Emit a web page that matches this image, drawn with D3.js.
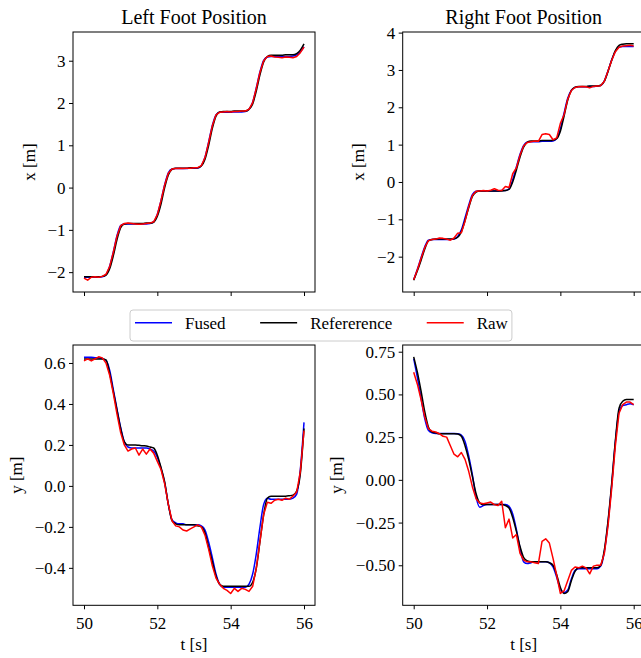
<!DOCTYPE html>
<html>
<head>
<meta charset="utf-8">
<script src="https://cdn.jsdelivr.net/npm/d3@7"></script>
<style>
  body { margin: 0; background: #fff; }
  svg { display: block; }
  svg text { font-family: "Liberation Serif", "Times New Roman", serif; }
</style>
</head>
<body>
<div id="chart"></div>
<script>
// sample times [s]
const time = [
  50.0, 50.1, 50.2, 50.3, 50.4, 50.5, 50.6, 50.7, 50.8, 50.9,
  51.0, 51.1, 51.2, 51.3, 51.4, 51.5, 51.6, 51.7, 51.8, 51.9,
  52.0, 52.1, 52.2, 52.3, 52.4, 52.5, 52.6, 52.7, 52.8, 52.9,
  53.0, 53.1, 53.2, 53.3, 53.4, 53.5, 53.6, 53.7, 53.8, 53.9,
  54.0, 54.1, 54.2, 54.3, 54.4, 54.5, 54.6, 54.7, 54.8, 54.9,
  55.0, 55.1, 55.2, 55.3, 55.4, 55.5, 55.6, 55.7, 55.8, 55.9,
  56.0
];

// left foot, x [m]
const leftXFused = [
  -2.12, -2.12, -2.12, -2.12, -2.12, -2.11, -2.06, -1.86, -1.52, -1.14,
  -0.90, -0.86, -0.86, -0.86, -0.86, -0.86, -0.86, -0.86, -0.85, -0.81,
  -0.63, -0.31, 0.07, 0.35, 0.44, 0.45, 0.45, 0.45, 0.45, 0.46,
  0.46, 0.46, 0.52, 0.72, 1.08, 1.47, 1.72, 1.78, 1.78, 1.78,
  1.78, 1.79, 1.79, 1.79, 1.80, 1.85, 2.02, 2.36, 2.74, 3.01,
  3.09, 3.10, 3.10, 3.10, 3.10, 3.10, 3.10, 3.11, 3.14, 3.21,
  3.33
];
const leftXReference = [
  -2.11, -2.11, -2.11, -2.11, -2.11, -2.10, -2.07, -1.92, -1.61, -1.23,
  -0.95, -0.86, -0.85, -0.85, -0.85, -0.85, -0.85, -0.84, -0.84, -0.82,
  -0.68, -0.39, 0.00, 0.30, 0.43, 0.46, 0.46, 0.46, 0.46, 0.47,
  0.47, 0.47, 0.51, 0.67, 1.00, 1.40, 1.69, 1.79, 1.80, 1.80,
  1.80, 1.81, 1.81, 1.81, 1.81, 1.85, 1.98, 2.29, 2.67, 2.97,
  3.10, 3.13, 3.13, 3.13, 3.13, 3.14, 3.14, 3.14, 3.17, 3.25,
  3.40
];
const leftXRaw = [
  -2.14, -2.19, -2.12, -2.11, -2.12, -2.10, -2.05, -1.87, -1.53, -1.15,
  -0.90, -0.85, -0.84, -0.85, -0.86, -0.87, -0.86, -0.85, -0.84, -0.81,
  -0.64, -0.31, 0.06, 0.34, 0.44, 0.45, 0.46, 0.45, 0.46, 0.46,
  0.47, 0.47, 0.52, 0.71, 1.07, 1.46, 1.72, 1.78, 1.79, 1.80,
  1.79, 1.80, 1.80, 1.81, 1.81, 1.85, 2.01, 2.35, 2.73, 3.00,
  3.10, 3.11, 3.09, 3.08, 3.07, 3.09, 3.08, 3.07, 3.10, 3.19,
  3.32
];

// right foot, x [m]
const rightXFused = [
  -2.62, -2.34, -2.03, -1.74, -1.56, -1.54, -1.54, -1.54, -1.54, -1.54,
  -1.54, -1.53, -1.46, -1.28, -0.96, -0.62, -0.34, -0.25, -0.24, -0.24,
  -0.24, -0.24, -0.24, -0.24, -0.23, -0.23, -0.18, 0.06, 0.40, 0.74,
  0.98, 1.07, 1.08, 1.08, 1.08, 1.09, 1.09, 1.09, 1.10, 1.17,
  1.42, 1.84, 2.24, 2.46, 2.53, 2.55, 2.55, 2.55, 2.56, 2.56,
  2.57, 2.58, 2.71, 2.98, 3.27, 3.50, 3.61, 3.63, 3.63, 3.63,
  3.63
];
const rightXReference = [
  -2.63, -2.38, -2.10, -1.80, -1.58, -1.54, -1.53, -1.53, -1.53, -1.53,
  -1.53, -1.52, -1.48, -1.33, -1.03, -0.69, -0.39, -0.27, -0.24, -0.24,
  -0.24, -0.24, -0.24, -0.24, -0.24, -0.23, -0.20, 0.00, 0.32, 0.67,
  0.94, 1.07, 1.10, 1.10, 1.10, 1.11, 1.11, 1.11, 1.12, 1.16,
  1.36, 1.76, 2.19, 2.45, 2.54, 2.56, 2.56, 2.56, 2.57, 2.57,
  2.57, 2.59, 2.70, 2.96, 3.26, 3.52, 3.66, 3.69, 3.70, 3.70,
  3.70
];
const rightXRaw = [
  -2.62, -2.35, -2.05, -1.76, -1.57, -1.54, -1.53, -1.50, -1.51, -1.53,
  -1.56, -1.50, -1.37, -1.36, -1.05, -0.66, -0.36, -0.25, -0.24, -0.23,
  -0.24, -0.22, -0.18, -0.22, -0.23, -0.12, -0.15, 0.22, 0.38, 0.72,
  0.97, 1.06, 1.08, 1.10, 1.09, 1.27, 1.29, 1.27, 1.13, 1.18,
  1.57, 1.80, 2.22, 2.45, 2.53, 2.55, 2.56, 2.55, 2.52, 2.56,
  2.57, 2.58, 2.70, 2.97, 3.26, 3.49, 3.61, 3.64, 3.65, 3.66,
  3.64
];

// left foot, y [m]
const leftYFused = [
  0.628, 0.628, 0.628, 0.626, 0.625, 0.622, 0.612, 0.565, 0.47, 0.375,
  0.285, 0.215, 0.19, 0.185, 0.185, 0.185, 0.185, 0.185, 0.18, 0.17,
  0.14, 0.085, 0.015, -0.09, -0.165, -0.18, -0.185, -0.185, -0.19, -0.19,
  -0.19, -0.19, -0.195, -0.215, -0.275, -0.35, -0.43, -0.48, -0.495, -0.495,
  -0.495, -0.495, -0.495, -0.495, -0.495, -0.48, -0.43, -0.33, -0.20, -0.09,
  -0.06, -0.065, -0.065, -0.065, -0.065, -0.065, -0.065, -0.06, -0.04, 0.08,
  0.31
];
const leftYReference = [
  0.62, 0.62, 0.62, 0.62, 0.62, 0.62, 0.615, 0.55, 0.46, 0.37,
  0.28, 0.215, 0.20, 0.20, 0.20, 0.198, 0.196, 0.195, 0.19, 0.185,
  0.15, 0.09, 0.02, -0.09, -0.17, -0.185, -0.19, -0.19, -0.19, -0.19,
  -0.19, -0.195, -0.20, -0.23, -0.30, -0.37, -0.44, -0.48, -0.49, -0.49,
  -0.49, -0.49, -0.49, -0.49, -0.49, -0.49, -0.47, -0.40, -0.27, -0.14,
  -0.06, -0.05, -0.05, -0.05, -0.05, -0.05, -0.048, -0.045, -0.025, 0.06,
  0.28
];
const leftYRaw = [
  0.61, 0.62, 0.61, 0.62, 0.63, 0.625, 0.60, 0.54, 0.45, 0.35,
  0.26, 0.20, 0.17, 0.18, 0.185, 0.15, 0.18, 0.155, 0.18, 0.16,
  0.12, 0.08, 0.01, -0.09, -0.17, -0.195, -0.20, -0.215, -0.22, -0.21,
  -0.20, -0.19, -0.20, -0.24, -0.31, -0.39, -0.45, -0.48, -0.50, -0.51,
  -0.525, -0.50, -0.515, -0.50, -0.505, -0.515, -0.49, -0.40, -0.27, -0.14,
  -0.08, -0.085, -0.07, -0.065, -0.07, -0.06, -0.065, -0.05, -0.03, 0.07,
  0.27
];

// right foot, y [m]
const rightYFused = [
  0.71, 0.60, 0.48, 0.36, 0.29, 0.275, 0.272, 0.272, 0.272, 0.272,
  0.272, 0.272, 0.27, 0.262, 0.225, 0.14, 0.03, -0.10, -0.16, -0.15,
  -0.145, -0.145, -0.145, -0.145, -0.145, -0.145, -0.155, -0.20, -0.29, -0.40,
  -0.48, -0.49, -0.485, -0.48, -0.48, -0.48, -0.48, -0.485, -0.51, -0.57,
  -0.64, -0.66, -0.645, -0.58, -0.53, -0.52, -0.52, -0.52, -0.52, -0.52,
  -0.52, -0.505, -0.42, -0.25, -0.03, 0.22, 0.40, 0.435, 0.44, 0.445,
  0.44
];
const rightYReference = [
  0.72, 0.63, 0.52, 0.40, 0.31, 0.28, 0.275, 0.27, 0.27, 0.27,
  0.27, 0.27, 0.268, 0.255, 0.20, 0.12, 0.02, -0.08, -0.135, -0.145,
  -0.145, -0.145, -0.145, -0.145, -0.145, -0.15, -0.165, -0.22, -0.30, -0.39,
  -0.455, -0.475, -0.48, -0.48, -0.48, -0.48, -0.48, -0.485, -0.50, -0.555,
  -0.63, -0.665, -0.655, -0.59, -0.535, -0.515, -0.515, -0.515, -0.515, -0.515,
  -0.515, -0.50, -0.41, -0.24, -0.02, 0.23, 0.42, 0.46, 0.47, 0.47,
  0.47
];
const rightYRaw = [
  0.63, 0.56, 0.47, 0.37, 0.30, 0.285, 0.28, 0.27, 0.255, 0.25,
  0.20, 0.15, 0.135, 0.16, 0.12, 0.05, -0.04, -0.11, -0.135, -0.14,
  -0.135, -0.13, -0.145, -0.15, -0.125, -0.28, -0.23, -0.34, -0.32, -0.43,
  -0.47, -0.48, -0.48, -0.485, -0.49, -0.36, -0.345, -0.37, -0.46, -0.56,
  -0.665, -0.65, -0.59, -0.53, -0.51, -0.515, -0.505, -0.515, -0.55, -0.505,
  -0.50, -0.50, -0.43, -0.27, -0.05, 0.20, 0.39, 0.44, 0.455, 0.455,
  0.44
];

// ticks and labels
const timeTicks = [50, 52, 54, 56];
const leftXTicks = [-2, -1, 0, 1, 2, 3];
const rightXTicks = [-2, -1, 0, 1, 2, 3, 4];
const leftYTicks = [-0.4, -0.2, 0.0, 0.2, 0.4, 0.6];
const rightYTicks = [-0.5, -0.25, 0.0, 0.25, 0.5, 0.75];
const titles = ["Left Foot Position", "Right Foot Position"];
const seriesNames = ["Fused", "Refererence", "Raw"];
const seriesColors = ["#0000ff", "#000000", "#ff0000"];

const FONT = '"Liberation Serif", "Times New Roman", serif';
const width = 641, height = 658;
const cols = [{ left: 73, right: 315 }, { left: 402.7, right: 644.7 }];
const rows = [{ top: 32, bottom: 292 }, { top: 345, bottom: 605.3 }];
const ylabelX = [[35, 364], [22, 342]];

const panels = [
  { r: 0, c: 0, ylabel: "x [m]", series: [leftXFused, leftXReference, leftXRaw], ticks: leftXTicks, fmt: ".0f" },
  { r: 0, c: 1, ylabel: "x [m]", series: [rightXFused, rightXReference, rightXRaw], ticks: rightXTicks, fmt: ".0f" },
  { r: 1, c: 0, ylabel: "y [m]", series: [leftYFused, leftYReference, leftYRaw], ticks: leftYTicks, fmt: ".1f" },
  { r: 1, c: 1, ylabel: "y [m]", series: [rightYFused, rightYReference, rightYRaw], ticks: rightYTicks, fmt: ".2f" }
];

const svg = d3.select("#chart")
  .append("svg")
  .attr("width", width)
  .attr("height", height)
  .attr("font-family", FONT)
  .style("overflow", "hidden");

svg.append("rect").attr("width", width).attr("height", height).attr("fill", "#fff");

// matplotlib-style 5% margins
function padded(ext) {
  const p = (ext[1] - ext[0]) * 0.05;
  return [ext[0] - p, ext[1] + p];
}

panels.forEach((p, i) => {
  const col = cols[p.c], row = rows[p.r];
  const x = d3.scaleLinear().domain(padded(d3.extent(time))).range([col.left, col.right]);
  const y = d3.scaleLinear()
    .domain(padded(d3.extent(p.series.flat())))
    .range([row.bottom, row.top]);

  const clipId = "clip" + i;
  svg.append("clipPath").attr("id", clipId)
    .append("rect")
    .attr("x", col.left).attr("y", row.top)
    .attr("width", col.right - col.left).attr("height", row.bottom - row.top);

  const g = svg.append("g").attr("clip-path", `url(#${clipId})`);
  p.series.forEach((vals, s) => {
    const line = d3.line()
      .x((d, k) => x(time[k]))
      .y((d) => y(d))
      .curve(s === 2 ? d3.curveLinear : d3.curveMonotoneX);
    g.append("path")
      .attr("fill", "none")
      .attr("stroke", seriesColors[s])
      .attr("stroke-width", 1.5)
      .attr("stroke-linejoin", "round")
      .attr("d", line(vals));
  });

  // y axis
  const yAxis = svg.append("g")
    .attr("transform", `translate(${col.left},0)`)
    .call(d3.axisLeft(y).tickValues(p.ticks).tickFormat(d3.format(p.fmt))
      .tickSize(4).tickPadding(3.5).tickSizeOuter(0));
  yAxis.select(".domain").remove();

  // x axis
  const xAxis = svg.append("g")
    .attr("transform", `translate(0,${row.bottom})`)
    .call(d3.axisBottom(x).tickValues(timeTicks)
      .tickFormat(p.r === 1 ? d3.format("d") : () => "")
      .tickSize(4).tickPadding(7.5).tickSizeOuter(0));
  xAxis.select(".domain").remove();

  [yAxis, xAxis].forEach((a) => {
    a.attr("font-family", FONT).attr("font-size", 17);
    a.selectAll("line").attr("stroke", "#000").attr("stroke-width", 1);
    a.selectAll("text").attr("fill", "#000").attr("font-family", FONT);
  });

  // spines
  svg.append("rect")
    .attr("x", col.left).attr("y", row.top)
    .attr("width", col.right - col.left).attr("height", row.bottom - row.top)
    .attr("fill", "none").attr("stroke", "#000").attr("stroke-width", 1);

  // y label
  svg.append("text")
    .attr("transform", `translate(${ylabelX[p.r][p.c]},${(row.top + row.bottom) / 2}) rotate(-90)`)
    .attr("text-anchor", "middle")
    .attr("font-size", 17)
    .text(p.ylabel);

  if (p.r === 0) {
    svg.append("text")
      .attr("x", (col.left + col.right) / 2)
      .attr("y", 23.5)
      .attr("text-anchor", "middle")
      .attr("font-size", 20)
      .text(titles[p.c]);
  } else {
    svg.append("text")
      .attr("x", (col.left + col.right) / 2)
      .attr("y", 650)
      .attr("text-anchor", "middle")
      .attr("font-size", 17)
      .text("t [s]");
  }
});

// legend
const legend = svg.append("g");
const legendBox = legend.append("rect")
  .attr("y", 310).attr("height", 31).attr("rx", 3)
  .attr("fill", "#fff").attr("fill-opacity", 0.8)
  .attr("stroke", "#cccccc").attr("stroke-width", 1);

let lx = 135;
seriesNames.forEach((name, i) => {
  legend.append("line")
    .attr("x1", lx).attr("x2", lx + 37)
    .attr("y1", 322.7).attr("y2", 322.7)
    .attr("stroke", seriesColors[i]).attr("stroke-width", 1.5);
  const t = legend.append("text")
    .attr("x", lx + 50).attr("y", 329.3)
    .attr("font-size", 17)
    .text(name);
  lx = lx + 50 + t.node().getComputedTextLength() + 34.5;
});
legendBox.attr("x", 130).attr("width", lx - 34.5 + 4 - 130);
</script>
</body>
</html>
